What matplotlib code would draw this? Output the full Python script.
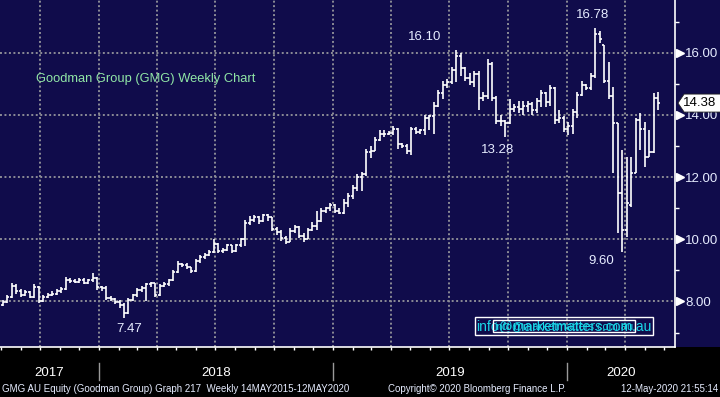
import pandas as pd
import matplotlib
matplotlib.use("Agg")
import matplotlib.pyplot as plt
import matplotlib.dates as mdates
from matplotlib.patches import Polygon, Rectangle
from matplotlib.ticker import MultipleLocator, NullFormatter

plt.rcParams['font.family'] = ['Liberation Sans', 'DejaVu Sans']

# GMG AU weekly bars
first_week = "2017-07-28"

opens = [7.85, 7.90, 7.98, 8.15, 8.48, 8.35, 8.22, 8.30, 8.15, 8.45,
         8.02, 8.15, 8.22, 8.25, 8.35, 8.40, 8.68, 8.65, 8.62, 8.70,
         8.60, 8.68, 8.75, 8.45, 8.42, 8.12, 8.08, 7.98, 7.88, 7.62,
         8.05, 8.20, 8.38, 8.42, 8.55, 8.58, 8.22, 8.50, 8.55, 8.70,
         8.95, 9.20, 9.18, 9.10, 8.98, 9.30, 9.42, 9.50, 9.60, 9.85,
         9.62, 9.65, 9.80, 9.62, 9.80, 10.00, 10.52, 10.62, 10.70, 10.60,
         10.78, 10.70, 10.32, 10.22, 10.05, 9.92, 10.28, 10.40, 10.12, 10.02,
         10.30, 10.42, 10.60, 10.92, 11.00, 11.10, 10.90, 10.85, 11.15, 11.40,
         11.65, 12.00, 12.10, 12.80, 12.85, 13.20, 13.40, 13.40, 13.42, 13.55,
         13.05, 13.00, 12.85, 13.55, 13.45, 13.50, 13.90, 13.95, 14.30, 14.70,
         14.95, 15.05, 15.45, 15.90, 15.50, 15.20, 15.05, 15.30, 14.55, 14.60,
         15.65, 14.55, 13.80, 13.80, 13.75, 14.20, 14.25, 14.20, 14.30, 14.35,
         14.15, 14.45, 14.70, 14.40, 14.85, 13.85, 13.90, 13.55, 13.65, 14.10,
         14.65, 14.95, 14.88, 15.25, 16.60, 16.25, 15.10, 14.60, 13.75, 11.50,
         10.30, 11.10, 12.13, 13.85, 13.55, 12.65, 12.80, 14.55]
highs = [7.98, 8.05, 8.20, 8.58, 8.55, 8.40, 8.38, 8.35, 8.55, 8.48,
         8.20, 8.28, 8.32, 8.40, 8.45, 8.78, 8.75, 8.72, 8.75, 8.75,
         8.72, 8.92, 8.78, 8.50, 8.48, 8.18, 8.12, 8.05, 7.95, 8.12,
         8.25, 8.42, 8.48, 8.60, 8.62, 8.60, 8.55, 8.62, 8.72, 9.00,
         9.30, 9.25, 9.22, 9.12, 9.35, 9.48, 9.55, 9.65, 10.02, 9.88,
         9.72, 9.85, 9.82, 9.85, 10.05, 10.62, 10.75, 10.78, 10.75, 10.82,
         10.82, 10.72, 10.40, 10.30, 10.10, 10.35, 10.45, 10.42, 10.20, 10.35,
         10.55, 10.90, 11.00, 11.05, 11.15, 11.12, 11.00, 11.30, 11.50, 11.75,
         12.10, 12.15, 12.90, 13.00, 13.30, 13.50, 13.50, 13.48, 13.65, 13.58,
         13.10, 13.05, 13.62, 13.60, 13.55, 14.00, 14.00, 14.40, 14.80, 15.10,
         15.15, 15.55, 16.10, 16.00, 15.55, 15.35, 15.40, 15.40, 14.75, 15.80,
         15.70, 14.60, 14.00, 13.85, 14.50, 14.35, 14.45, 14.45, 14.45, 14.40,
         14.55, 14.80, 14.75, 14.97, 14.90, 14.15, 13.95, 13.78, 14.20, 14.75,
         15.10, 15.00, 15.35, 16.78, 16.70, 16.25, 15.70, 14.90, 13.75, 12.87,
         12.65, 12.65, 13.90, 14.06, 13.78, 13.50, 14.70, 14.75]
lows = [7.78, 7.85, 7.95, 8.10, 8.25, 8.15, 8.18, 8.10, 8.12, 7.95,
        7.98, 8.10, 8.18, 8.20, 8.28, 8.38, 8.60, 8.58, 8.58, 8.55,
        8.55, 8.62, 8.38, 8.35, 8.05, 8.00, 7.92, 7.80, 7.47, 7.58,
        8.00, 8.15, 8.30, 8.00, 8.45, 8.15, 8.18, 8.45, 8.50, 8.65,
        8.90, 9.10, 9.05, 8.92, 8.95, 9.25, 9.38, 9.45, 9.55, 9.55,
        9.55, 9.62, 9.55, 9.58, 9.75, 9.78, 10.45, 10.55, 10.50, 10.55,
        10.60, 10.25, 10.15, 9.95, 9.85, 9.90, 10.20, 10.05, 9.92, 10.00,
        10.25, 10.30, 10.55, 10.85, 10.90, 10.85, 10.80, 10.80, 11.05, 11.30,
        11.55, 11.55, 12.05, 12.60, 12.85, 13.15, 13.30, 13.35, 13.35, 12.90,
        12.95, 12.75, 12.72, 13.40, 13.38, 13.35, 13.50, 13.40, 14.25, 14.50,
        14.85, 15.00, 15.05, 15.25, 15.10, 14.95, 14.90, 14.15, 14.45, 14.50,
        14.45, 13.70, 13.65, 13.28, 13.70, 14.10, 14.05, 14.00, 14.10, 14.00,
        14.05, 14.25, 14.25, 14.30, 13.70, 13.75, 13.45, 13.35, 13.40, 13.90,
        14.60, 14.80, 14.80, 15.20, 16.30, 15.03, 14.50, 12.13, 10.20, 9.60,
        10.06, 11.03, 12.13, 12.87, 12.32, 12.65, 12.77, 14.16]
closes = [7.90, 7.98, 8.15, 8.50, 8.35, 8.22, 8.30, 8.15, 8.45, 8.02,
          8.15, 8.22, 8.25, 8.35, 8.40, 8.68, 8.65, 8.62, 8.70, 8.60,
          8.68, 8.75, 8.45, 8.42, 8.12, 8.08, 7.98, 7.88, 7.62, 8.05,
          8.20, 8.38, 8.42, 8.55, 8.58, 8.22, 8.50, 8.55, 8.70, 8.95,
          9.20, 9.18, 9.10, 8.98, 9.30, 9.42, 9.50, 9.60, 9.85, 9.62,
          9.65, 9.80, 9.62, 9.80, 10.00, 10.52, 10.62, 10.70, 10.60, 10.78,
          10.70, 10.32, 10.22, 10.05, 9.92, 10.28, 10.40, 10.12, 10.02, 10.30,
          10.42, 10.60, 10.92, 11.00, 11.10, 10.90, 10.85, 11.15, 11.40, 11.65,
          12.00, 12.10, 12.80, 12.85, 13.20, 13.40, 13.40, 13.42, 13.55, 13.05,
          13.00, 12.85, 13.55, 13.45, 13.50, 13.90, 13.95, 14.30, 14.70, 14.95,
          15.05, 15.45, 15.90, 15.50, 15.20, 15.05, 15.30, 14.55, 14.60, 15.65,
          14.55, 13.80, 13.80, 13.75, 14.20, 14.25, 14.20, 14.30, 14.35, 14.15,
          14.45, 14.70, 14.40, 14.85, 13.85, 13.90, 13.55, 13.65, 14.10, 14.65,
          14.95, 14.88, 15.25, 16.60, 16.45, 15.10, 14.60, 13.75, 11.50, 10.30,
          11.15, 12.13, 13.85, 13.55, 12.65, 12.80, 14.55, 14.38]

# marked highs / lows: bar index, which end of the bar
marked_bars = [28, 102, 113, 133, 139]
marked_ends = ["low", "high", "low", "high", "low"]
label_offsets = [(5, -11), (-31, 13), (-8, -13), (-3, 13), (-21, -9)]  # pixels

y_ticks = [8, 10, 12, 14, 16]
years = [2017, 2018, 2019, 2020]

title = "Goodman Group (GMG) Weekly Chart"
footer_left = "GMG AU Equity (Goodman Group) Graph 217  Weekly 14MAY2015-12MAY2020"
footer_mid = "Copyright\u00a9 2020 Bloomberg Finance L.P."
footer_right = "12-May-2020 21:55:14"
watermark = "info@marketmatters.com.au"

NAVY = "#100c4b"
WHITE = "#ffffff"
TXT = "#e6ecff"
GRID = "#8c8c96"


def main():
    dates = pd.date_range(first_week, periods=len(closes), freq="7D")
    x = mdates.date2num(dates)
    tick_w = 3.2  # days

    fig = plt.figure(figsize=(7.2, 3.97), dpi=100, facecolor=NAVY)
    # black strip under the plot (drawn below the axes)
    fig.patches.append(Rectangle((0, 0), 1, 50 / 397, transform=fig.transFigure,
                                 facecolor="black", edgecolor="none", zorder=-1))
    ax = fig.add_axes([0, 50 / 397, 675 / 720, 347 / 397])
    ax.set_facecolor(NAVY)

    # OHLC bars
    ax.vlines(x, lows, highs, color=WHITE, lw=1.2, zorder=3)
    ax.hlines(opens, x - tick_w, x, color=WHITE, lw=1.2, zorder=3)
    ax.hlines(closes, x, x + tick_w, color=WHITE, lw=1.2, zorder=3)

    x0 = mdates.date2num(pd.Timestamp("2017-07-30 14:00"))
    ax.set_xlim(x0, x0 + 675 / (234 / 365))
    ax.set_ylim(6.534, 17.695)

    # axes frame
    for s in ("top", "left"):
        ax.spines[s].set_visible(False)
    for s in ("right", "bottom"):
        ax.spines[s].set_color(WHITE)
        ax.spines[s].set_linewidth(1.2)

    ax.xaxis.set_major_locator(mdates.MonthLocator(bymonth=[1, 4, 7, 10]))
    ax.xaxis.set_minor_locator(mdates.MonthLocator())
    ax.xaxis.set_major_formatter(NullFormatter())
    ax.tick_params(axis="x", which="both", direction="out", length=2.5,
                   width=1, color=WHITE)

    ax.yaxis.tick_right()
    ax.set_yticks(y_ticks)
    ax.set_yticklabels([f"{v:.2f}" for v in y_ticks])
    ax.yaxis.set_minor_locator(MultipleLocator(1))
    ax.tick_params(axis="y", which="major", length=0, pad=7.5,
                   labelsize=9.5, labelcolor=TXT)
    ax.tick_params(axis="y", which="minor", length=3, width=1, color=WHITE)
    ax.plot([1.0068] * len(y_ticks), y_ticks, ls="none", marker=">",
            ms=6, color=WHITE, mec=WHITE, transform=ax.get_yaxis_transform(),
            clip_on=False, zorder=4)

    ax.grid(True, which="major", color=GRID, lw=1.4, ls=(0, (1, 1.3)))
    ax.set_axisbelow(True)

    # year separators and labels in the black strip
    xa = ax.get_xaxis_transform()
    lo, hi = ax.get_xlim()
    for yr in years:
        start = mdates.date2num(pd.Timestamp(f"{yr}-01-01"))
        end = mdates.date2num(pd.Timestamp(f"{yr + 1}-01-01"))
        if lo < start < hi:
            ax.plot([start, start], [-0.046, -0.095], color="#9a9a9a", lw=1,
                    transform=xa, clip_on=False)
        mid = (max(start, lo) + min(end, hi)) / 2
        ax.text(mid, -0.075, str(yr), transform=xa, ha="center", va="center",
                color=WHITE, fontsize=9.5)

    # high / low labels
    for idx, end_, off in zip(marked_bars, marked_ends, label_offsets):
        val = highs[idx] if end_ == "high" else lows[idx]
        ax.annotate(f"{val:.2f}", (x[idx], val), xytext=off,
                    textcoords="offset pixels", ha="center", va="center",
                    color=TXT, fontsize=9.5)

    ax.text(36 / 675, 1 - 79 / 347, title, transform=ax.transAxes,
            ha="left", va="center", color="#90e6a6", fontsize=9.3)

    # last price tag
    last = closes[-1]
    h = 9 / 31.1
    tag = Polygon([(1.0044, last), (1.0135, last + h), (1.08, last + h),
                   (1.08, last - h), (1.0135, last - h)], closed=True,
                  facecolor=WHITE, edgecolor="#202020", lw=0.6,
                  transform=ax.get_yaxis_transform(), clip_on=False, zorder=6)
    ax.add_patch(tag)
    ax.text(1.037, last, f"{last:.2f}", transform=ax.get_yaxis_transform(),
            ha="center", va="center", color="black", fontsize=9.5, zorder=7)

    # watermark boxes (the reference shows two overlapping copies)
    for size in (10, 7.9):
        ax.text(564 / 675, 1 - 326 / 347, watermark, transform=ax.transAxes,
                ha="center", va="center", color="#1ad8e8", fontsize=size,
                bbox=dict(boxstyle="square,pad=0.12", fc="none", ec=WHITE, lw=1),
                zorder=5)

    fig.text(0.003, 0.021, footer_left, ha="left", va="center", color=TXT,
             fontsize=7)
    fig.text(388 / 720, 0.021, footer_mid, ha="left", va="center", color=TXT,
             fontsize=7)
    fig.text(0.997, 0.021, footer_right, ha="right", va="center", color=TXT,
             fontsize=7)

    fig.savefig("out.png", dpi=100, facecolor=NAVY)


if __name__ == "__main__":
    main()
